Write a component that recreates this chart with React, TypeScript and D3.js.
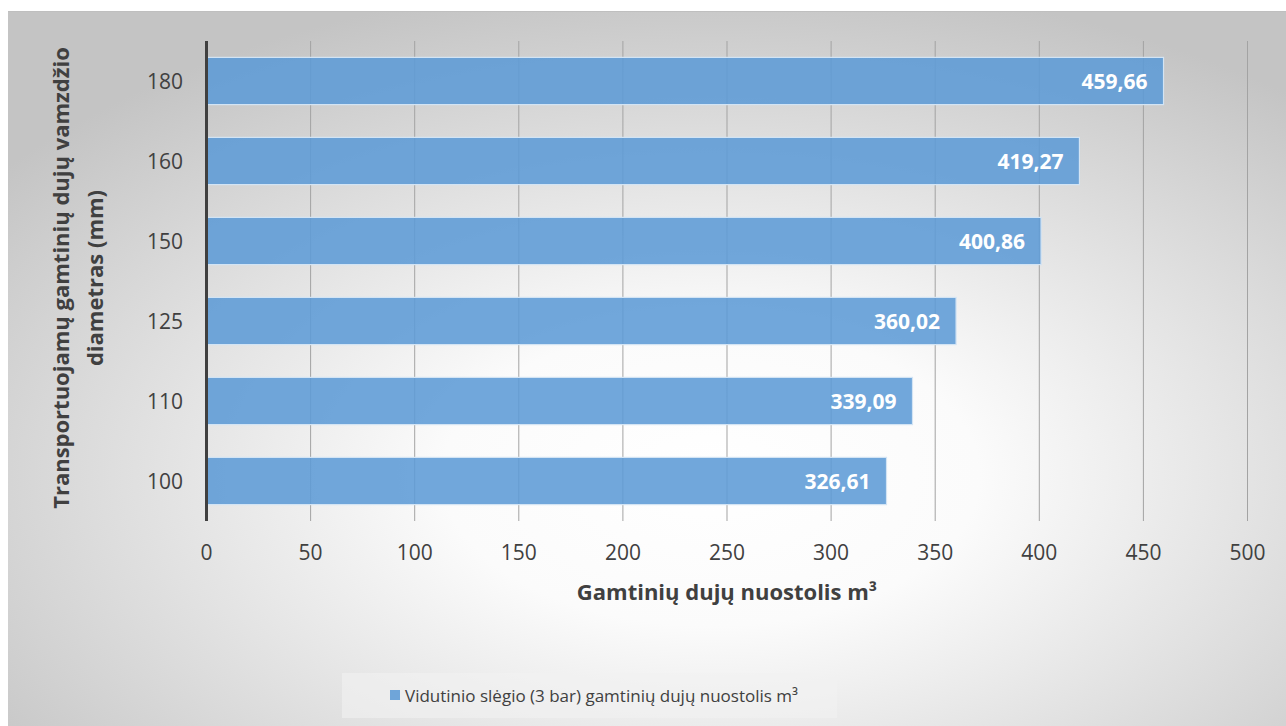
import React from "react";
import * as d3 from "d3";

const categories = ["180", "160", "150", "125", "110", "100"];
const values = [459.66, 419.27, 400.86, 360.02, 339.09, 326.61];
const xTicks = [0, 50, 100, 150, 200, 250, 300, 350, 400, 450, 500];
const xTitle = "Gamtinių dujų nuostolis m³";
const yTitleLines = ["Transportuojamų gamtinių dujų vamzdžio", "diametras (mm)"];
const legendLabel = "Vidutinio slėgio (3 bar) gamtinių dujų nuostolis m³";

const W = 1286;
const H = 726;
const FONT = "'Open Sans', sans-serif";

export default function App() {
  const x = d3.scaleLinear().domain([0, 500]).range([206.5, 1247.5]);
  const y = d3.scaleBand().domain(categories).range([41, 521]).paddingInner(0.41).paddingOuter(0.205);
  const fmt = (v: number) => v.toFixed(2).replace(".", ",");

  return (
    <svg width={W} height={H} style={{ position: "absolute", left: 0, top: 0 }}>
      <defs>
        <radialGradient id="bg" cx="0.55" cy="0.65" r="0.7" fx="0.55" fy="0.65">
          <stop offset="0" stopColor="#ffffff" />
          <stop offset="0.3" stopColor="#fbfbfb" />
          <stop offset="1" stopColor="#c4c4c4" />
        </radialGradient>
      </defs>
      <rect x={0} y={0} width={W} height={H} fill="#ffffff" />
      <rect x={8} y={11} width={W - 8} height={H - 11} fill="url(#bg)" />
      <line x1={8} x2={W} y1={11.5} y2={11.5} stroke="#bfbfbf" strokeWidth={1} />

      {xTicks.slice(1).map((t) => (
        <line key={t} x1={x(t)} x2={x(t)} y1={41} y2={521} stroke="#a3a3a3" strokeWidth={1} />
      ))}

      {categories.map((c, i) => (
        <g key={c}>
          <rect
            x={x(0)}
            y={y(c)!}
            width={x(values[i]) - x(0)}
            height={y.bandwidth()}
            fill="#5d9bd6"
            fillOpacity={0.88}
            stroke="#d3e4f4"
            strokeWidth={1.2}
          />
          <text
            x={x(values[i]) - 16}
            y={y(c)! + y.bandwidth() / 2}
            textAnchor="end"
            dominantBaseline="central"
            fill="#ffffff"
            fontFamily={FONT}
            fontWeight="bold"
            fontSize={21}
          >
            {fmt(values[i])}
          </text>
        </g>
      ))}

      <line x1={x(0)} x2={x(0)} y1={41} y2={521} stroke="#404040" strokeWidth={3} />

      {categories.map((c) => (
        <text
          key={c}
          x={183}
          y={y(c)! + y.bandwidth() / 2}
          textAnchor="end"
          dominantBaseline="central"
          fill="#404040"
          fontFamily={FONT}
          fontSize={21}
        >
          {c}
        </text>
      ))}

      {xTicks.map((t) => (
        <text
          key={t}
          x={x(t)}
          y={552}
          textAnchor="middle"
          dominantBaseline="central"
          fill="#404040"
          fontFamily={FONT}
          fontSize={21}
        >
          {t}
        </text>
      ))}

      <text
        x={727}
        y={591}
        textAnchor="middle"
        dominantBaseline="central"
        fill="#404040"
        fontFamily={FONT}
        fontWeight="bold"
        fontSize={22}
      >
        {xTitle}
      </text>

      <g transform="translate(77,278) rotate(-90)">
        {yTitleLines.map((l, i) => (
          <text
            key={i}
            x={0}
            y={(i - 0.5) * 34}
            textAnchor="middle"
            dominantBaseline="central"
            fill="#404040"
            fontFamily={FONT}
            fontWeight="bold"
            fontSize={22}
          >
            {l}
          </text>
        ))}
      </g>

      <rect x={342} y={673} width={495} height={45} fill="#f2f2f2" fillOpacity={0.6} />
      <rect x={390} y={690} width={10} height={10} fill="#5d9bd6" fillOpacity={0.88} />
      <text
        x={405}
        y={695}
        dominantBaseline="central"
        fill="#404040"
        fontFamily={FONT}
        fontSize={17}
      >
        {legendLabel}
      </text>
    </svg>
  );
}
